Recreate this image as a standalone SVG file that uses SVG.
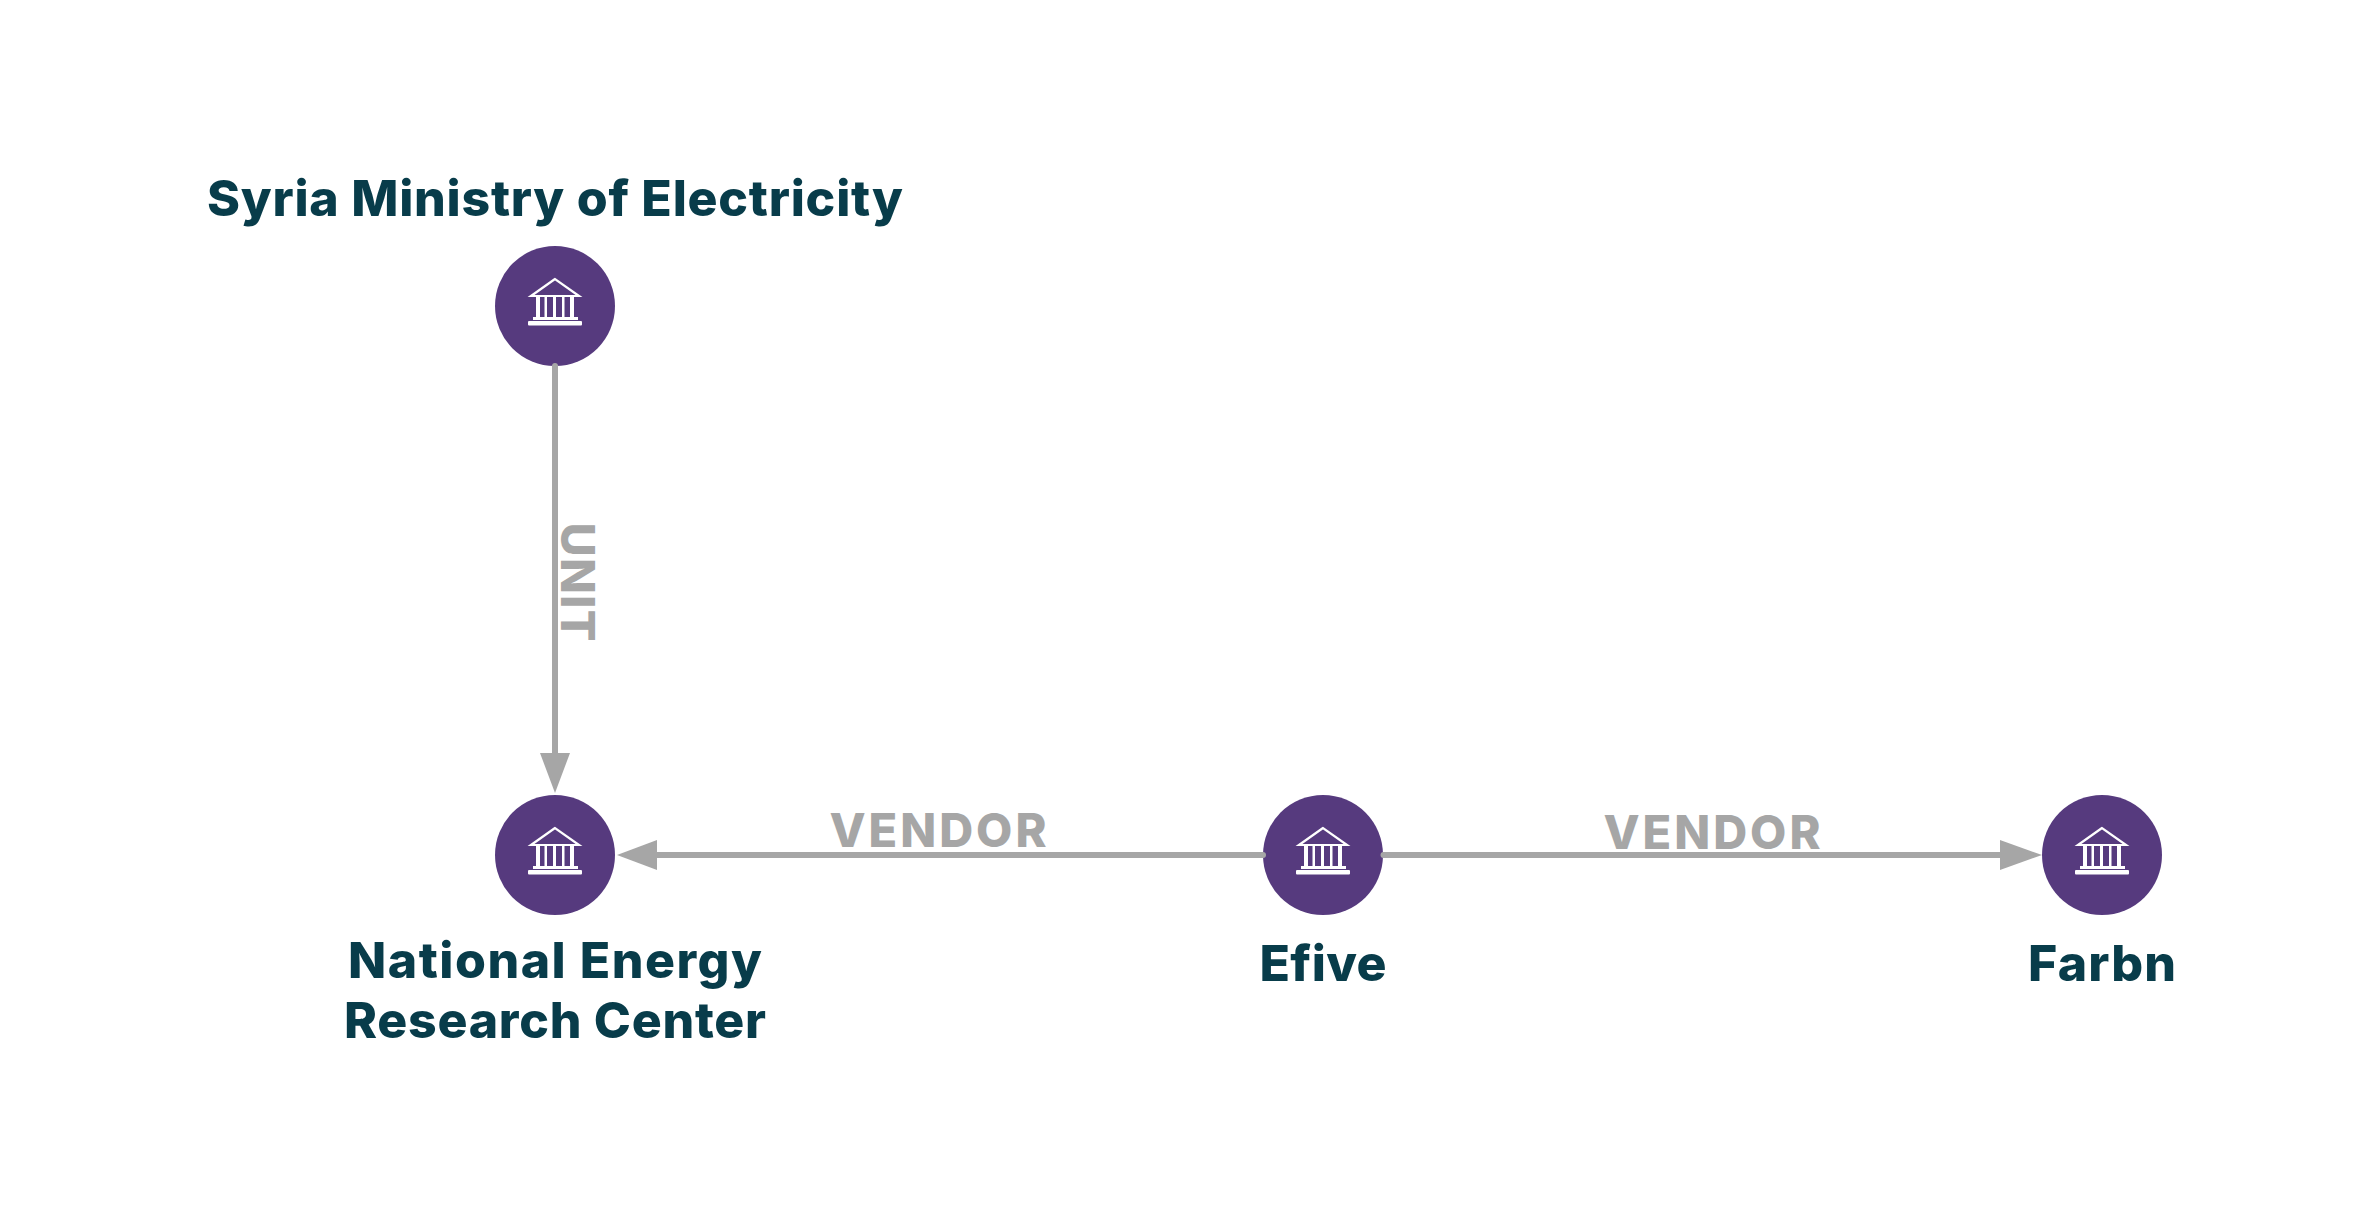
<svg xmlns="http://www.w3.org/2000/svg" width="2376" height="1215" viewBox="0 0 2376 1215">
<style>
.n{fill:#083c4a;font-family:"Inter","Liberation Sans",sans-serif;font-weight:800;font-size:50px;text-anchor:middle}
.e{fill:#a6a6a6;font-family:"Inter","Liberation Sans",sans-serif;font-weight:800;font-size:47px;text-anchor:middle}
.c{stroke:#a6a6a6;stroke-width:6;stroke-linecap:round;fill:none}
.a{fill:#a6a6a6}
.d{fill:#563a7e}
</style>
<defs>
<g id="bank">
<path d="M0 -27 L-24 -10 H24 Z" fill="none" stroke="#fff" stroke-width="2.200" stroke-linejoin="miter"/>
<g fill="#fff">
<rect x="-19" y="-10" width="4" height="22"/>
<rect x="-10.500" y="-10" width="2.500" height="22"/>
<rect x="-2" y="-10" width="3" height="22"/>
<rect x="7" y="-10" width="2.500" height="22"/>
<rect x="15" y="-10" width="4" height="22"/>
<rect x="-22" y="11" width="45" height="3"/>
<rect x="-27" y="15" width="54" height="4.500" rx="1"/>
</g>
</g>
</defs>
<rect width="2376" height="1215" fill="#fff"/>
<g id="node-syria"><circle class="d" cx="555" cy="306" r="60"/><use href="#bank" x="555" y="306"/><text class="n" x="555" y="216" textLength="696">Syria Ministry of Electricity</text></g>
<g id="node-nerc"><circle class="d" cx="555" cy="855" r="60"/><use href="#bank" x="555" y="855"/><text class="n" x="555" y="978" textLength="414">National Energy</text><text class="n" x="555" y="1038" textLength="422">Research Center</text></g>
<g id="node-efive"><circle class="d" cx="1323" cy="855" r="60"/><use href="#bank" x="1323" y="855"/><text class="n" x="1323" y="981" textLength="127">Efive</text></g>
<g id="node-farbn"><circle class="d" cx="2102" cy="855" r="60"/><use href="#bank" x="2102" y="855"/><text class="n" x="2102" y="981" textLength="148">Farbn</text></g>
<g id="connectors">
<g id="edge-unit"><line class="c" x1="555" y1="366" x2="555" y2="755"/><path class="a" d="M540 753H570L555 793Z"/><text class="e" transform="translate(561 582) rotate(90)" textLength="119">UNIT</text></g>
<g id="edge-vendor-1"><line class="c" x1="1263" y1="855" x2="655" y2="855"/><path class="a" d="M657 840V870L617 855Z"/><text class="e" x="938" y="847" textLength="217">VENDOR</text></g>
<g id="edge-vendor-2"><line class="c" x1="1383.500" y1="855" x2="2002" y2="855"/><path class="a" d="M2000 840V870L2042 855Z"/><text class="e" x="1712" y="849" textLength="217">VENDOR</text></g>
</g>
</svg>
